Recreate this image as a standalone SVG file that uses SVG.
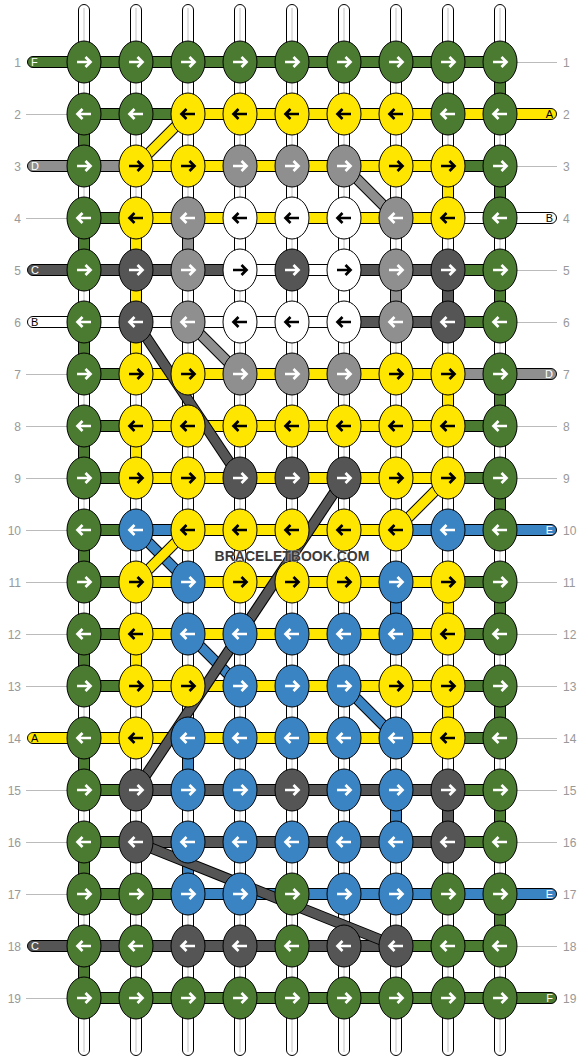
<svg xmlns="http://www.w3.org/2000/svg" xmlns:xlink="http://www.w3.org/1999/xlink" width="584" height="1060" viewBox="0 0 584 1060">
<style>
.G{fill:#4b7a31;color:#fff}
.Y{fill:#ffe600;color:#000}
.S{fill:#8f8f8f;color:#fff}
.D{fill:#555555;color:#fff}
.B{fill:#3a84c4;color:#fff}
.N{fill:#ffffff;color:#000}
#warps rect{fill:#fff;stroke:#000;stroke-width:1}
#warps line{stroke:#c4c4c4;stroke-width:1}
#connectors rect{stroke:#000;stroke-width:1}
#diagonals line{stroke-linecap:butt}
.o{stroke:#000;stroke-width:11}
.iY{stroke:#ffe600;stroke-width:9}
.iS{stroke:#8f8f8f;stroke-width:9}
.iD{stroke:#555555;stroke-width:9}
.iB{stroke:#3a84c4;stroke-width:9}
#knots ellipse{stroke:#000;stroke-width:1}
.num{font-family:"Liberation Sans",Arial,sans-serif;font-size:12px;fill:#999}
.gl{stroke:#bbb;stroke-width:1}
.lab{font-family:"Liberation Sans",Arial,sans-serif;font-size:11px}
.lw{fill:#fff}
.lk{fill:#000}
.wm{font-family:"Liberation Sans",Arial,sans-serif;font-size:14px;font-weight:bold;fill:#3a3a3a;stroke:#fff;stroke-width:1.2;stroke-opacity:.6;paint-order:stroke}
</style>
<defs>
<path id="R" d="M-7 0H6M1.5-5L6.5 0L1.5 5" fill="none" stroke="currentColor" stroke-width="2.7"/>
<path id="L" d="M7 0H-6M-1.5-5L-6.5 0L-1.5 5" fill="none" stroke="currentColor" stroke-width="2.7"/>
</defs>
<rect width="584" height="1060" fill="#fff"/>

<g id="warps">
<rect x="78.5" y="4.5" width="11" height="1051" rx="5.5"/><line x1="84" y1="8" x2="84" y2="1052"/>
<rect x="130.5" y="4.5" width="11" height="1051" rx="5.5"/><line x1="136" y1="8" x2="136" y2="1052"/>
<rect x="182.5" y="4.5" width="11" height="1051" rx="5.5"/><line x1="188" y1="8" x2="188" y2="1052"/>
<rect x="234.5" y="4.5" width="11" height="1051" rx="5.5"/><line x1="240" y1="8" x2="240" y2="1052"/>
<rect x="286.5" y="4.5" width="11" height="1051" rx="5.5"/><line x1="292" y1="8" x2="292" y2="1052"/>
<rect x="338.5" y="4.5" width="11" height="1051" rx="5.5"/><line x1="344" y1="8" x2="344" y2="1052"/>
<rect x="390.5" y="4.5" width="11" height="1051" rx="5.5"/><line x1="396" y1="8" x2="396" y2="1052"/>
<rect x="442.5" y="4.5" width="11" height="1051" rx="5.5"/><line x1="448" y1="8" x2="448" y2="1052"/>
<rect x="494.5" y="4.5" width="11" height="1051" rx="5.5"/><line x1="500" y1="8" x2="500" y2="1052"/>
</g>

<g id="guides">
<line class="gl" x1="26" y1="114.5" x2="67" y2="114.5"/>
<line class="gl" x1="26" y1="218.5" x2="67" y2="218.5"/>
<line class="gl" x1="26" y1="374.5" x2="67" y2="374.5"/>
<line class="gl" x1="26" y1="426.5" x2="67" y2="426.5"/>
<line class="gl" x1="26" y1="478.5" x2="67" y2="478.5"/>
<line class="gl" x1="26" y1="530.5" x2="67" y2="530.5"/>
<line class="gl" x1="26" y1="582.5" x2="67" y2="582.5"/>
<line class="gl" x1="26" y1="634.5" x2="67" y2="634.5"/>
<line class="gl" x1="26" y1="686.5" x2="67" y2="686.5"/>
<line class="gl" x1="26" y1="790.5" x2="67" y2="790.5"/>
<line class="gl" x1="26" y1="842.5" x2="67" y2="842.5"/>
<line class="gl" x1="26" y1="894.5" x2="67" y2="894.5"/>
<line class="gl" x1="26" y1="998.5" x2="67" y2="998.5"/>
<line class="gl" x1="517" y1="62.5" x2="557" y2="62.5"/>
<line class="gl" x1="517" y1="166.5" x2="557" y2="166.5"/>
<line class="gl" x1="517" y1="270.5" x2="557" y2="270.5"/>
<line class="gl" x1="517" y1="322.5" x2="557" y2="322.5"/>
<line class="gl" x1="517" y1="426.5" x2="557" y2="426.5"/>
<line class="gl" x1="517" y1="478.5" x2="557" y2="478.5"/>
<line class="gl" x1="517" y1="582.5" x2="557" y2="582.5"/>
<line class="gl" x1="517" y1="634.5" x2="557" y2="634.5"/>
<line class="gl" x1="517" y1="686.5" x2="557" y2="686.5"/>
<line class="gl" x1="517" y1="738.5" x2="557" y2="738.5"/>
<line class="gl" x1="517" y1="790.5" x2="557" y2="790.5"/>
<line class="gl" x1="517" y1="842.5" x2="557" y2="842.5"/>
<line class="gl" x1="517" y1="946.5" x2="557" y2="946.5"/>
</g>

<g id="connectors">
<!-- vertical -->
<rect class="G" x="494.5" y="62" width="11" height="52"/>
<rect class="G" x="494.5" y="166" width="11" height="52"/>
<rect class="G" x="494.5" y="270" width="11" height="52"/>
<rect class="G" x="494.5" y="374" width="11" height="52"/>
<rect class="G" x="494.5" y="478" width="11" height="52"/>
<rect class="G" x="494.5" y="582" width="11" height="52"/>
<rect class="G" x="494.5" y="686" width="11" height="52"/>
<rect class="G" x="494.5" y="790" width="11" height="52"/>
<rect class="G" x="494.5" y="894" width="11" height="52"/>
<rect class="G" x="78.5" y="114" width="11" height="52"/>
<rect class="G" x="78.5" y="218" width="11" height="52"/>
<rect class="G" x="78.5" y="322" width="11" height="52"/>
<rect class="G" x="78.5" y="426" width="11" height="52"/>
<rect class="G" x="78.5" y="530" width="11" height="52"/>
<rect class="G" x="78.5" y="634" width="11" height="52"/>
<rect class="G" x="78.5" y="738" width="11" height="52"/>
<rect class="G" x="78.5" y="842" width="11" height="52"/>
<rect class="G" x="78.5" y="946" width="11" height="52"/>
<rect class="Y" x="442.5" y="166" width="11" height="52"/>
<rect class="Y" x="442.5" y="374" width="11" height="52"/>
<rect class="Y" x="442.5" y="582" width="11" height="52"/>
<rect class="Y" x="442.5" y="686" width="11" height="52"/>
<rect class="Y" x="130.5" y="218" width="11" height="156"/>
<rect class="Y" x="130.5" y="426" width="11" height="52"/>
<rect class="Y" x="130.5" y="634" width="11" height="52"/>
<rect class="S" x="182.5" y="218" width="11" height="52"/>
<rect class="N" x="234.5" y="218" width="11" height="52"/>
<rect class="N" x="338.5" y="270" width="11" height="52"/>
<rect class="S" x="390.5" y="270" width="11" height="52"/>
<rect class="D" x="442.5" y="270" width="11" height="52"/>
<rect class="D" x="442.5" y="790" width="11" height="52"/>
<rect class="B" x="390.5" y="582" width="11" height="52"/>
<rect class="B" x="390.5" y="790" width="11" height="52"/>
<rect class="B" x="182.5" y="738" width="11" height="52"/>
<rect class="B" x="182.5" y="842" width="11" height="52"/>
<!-- edge strings -->
<rect class="G" x="27.5" y="56.5" width="62" height="11" rx="5.5"/>
<rect class="S" x="27.5" y="160.5" width="62" height="11" rx="5.5"/>
<rect class="D" x="27.5" y="264.5" width="62" height="11" rx="5.5"/>
<rect class="N" x="27.5" y="316.5" width="62" height="11" rx="5.5"/>
<rect class="Y" x="27.5" y="732.5" width="62" height="11" rx="5.5"/>
<rect class="D" x="27.5" y="940.5" width="62" height="11" rx="5.5"/>
<rect class="Y" x="494.5" y="108.5" width="62" height="11" rx="5.5"/>
<rect class="N" x="494.5" y="212.5" width="62" height="11" rx="5.5"/>
<rect class="S" x="494.5" y="368.5" width="62" height="11" rx="5.5"/>
<rect class="B" x="494.5" y="524.5" width="62" height="11" rx="5.5"/>
<rect class="B" x="494.5" y="888.5" width="62" height="11" rx="5.5"/>
<rect class="G" x="494.5" y="992.5" width="62" height="11" rx="5.5"/>
<!-- horizontal -->
<rect class="G" x="84" y="56.5" width="416" height="11"/>
<rect class="G" x="84" y="108.5" width="104" height="11"/>
<rect class="Y" x="188" y="108.5" width="312" height="11"/>
<rect class="S" x="84" y="160.5" width="52" height="11"/>
<rect class="Y" x="136" y="160.5" width="312" height="11"/>
<rect class="G" x="448" y="160.5" width="52" height="11"/>
<rect class="G" x="84" y="212.5" width="52" height="11"/>
<rect class="Y" x="136" y="212.5" width="312" height="11"/>
<rect class="N" x="448" y="212.5" width="52" height="11"/>
<rect class="D" x="84" y="264.5" width="156" height="11"/>
<rect class="N" x="240" y="264.5" width="104" height="11"/>
<rect class="D" x="344" y="264.5" width="104" height="11"/>
<rect class="G" x="448" y="264.5" width="52" height="11"/>
<rect class="N" x="84" y="316.5" width="260" height="11"/>
<rect class="D" x="344" y="316.5" width="104" height="11"/>
<rect class="G" x="448" y="316.5" width="52" height="11"/>
<rect class="G" x="84" y="368.5" width="52" height="11"/>
<rect class="Y" x="136" y="368.5" width="312" height="11"/>
<rect class="S" x="448" y="368.5" width="52" height="11"/>
<rect class="G" x="84" y="420.5" width="52" height="11"/>
<rect class="Y" x="136" y="420.5" width="312" height="11"/>
<rect class="G" x="448" y="420.5" width="52" height="11"/>
<rect class="G" x="84" y="472.5" width="52" height="11"/>
<rect class="Y" x="136" y="472.5" width="312" height="11"/>
<rect class="G" x="448" y="472.5" width="52" height="11"/>
<rect class="G" x="84" y="524.5" width="52" height="11"/>
<rect class="B" x="136" y="524.5" width="52" height="11"/>
<rect class="Y" x="188" y="524.5" width="208" height="11"/>
<rect class="B" x="396" y="524.5" width="104" height="11"/>
<rect class="G" x="84" y="576.5" width="52" height="11"/>
<rect class="Y" x="136" y="576.5" width="312" height="11"/>
<rect class="G" x="448" y="576.5" width="52" height="11"/>
<rect class="G" x="84" y="628.5" width="52" height="11"/>
<rect class="Y" x="136" y="628.5" width="312" height="11"/>
<rect class="G" x="448" y="628.5" width="52" height="11"/>
<rect class="G" x="84" y="680.5" width="52" height="11"/>
<rect class="Y" x="136" y="680.5" width="312" height="11"/>
<rect class="G" x="448" y="680.5" width="52" height="11"/>
<rect class="Y" x="84" y="732.5" width="364" height="11"/>
<rect class="G" x="448" y="732.5" width="52" height="11"/>
<rect class="G" x="84" y="784.5" width="52" height="11"/>
<rect class="D" x="136" y="784.5" width="312" height="11"/>
<rect class="G" x="448" y="784.5" width="52" height="11"/>
<rect class="G" x="84" y="836.5" width="52" height="11"/>
<rect class="D" x="136" y="836.5" width="312" height="11"/>
<rect class="G" x="448" y="836.5" width="52" height="11"/>
<rect class="G" x="84" y="888.5" width="104" height="11"/>
<rect class="B" x="188" y="888.5" width="312" height="11"/>
<rect class="D" x="84" y="940.5" width="312" height="11"/>
<rect class="G" x="396" y="940.5" width="104" height="11"/>
<rect class="G" x="84" y="992.5" width="416" height="11"/>
</g>

<g id="diagonals">
<line class="o" x1="188" y1="114" x2="136" y2="166"/><line class="iY" x1="188" y1="114" x2="136" y2="166"/>
<line class="o" x1="344" y1="166" x2="396" y2="218"/><line class="iS" x1="344" y1="166" x2="396" y2="218"/>
<line class="o" x1="188" y1="322" x2="240" y2="374"/><line class="iS" x1="188" y1="322" x2="240" y2="374"/>
<line class="o" x1="448" y1="478" x2="396" y2="530"/><line class="iY" x1="448" y1="478" x2="396" y2="530"/>
<line class="o" x1="136" y1="530" x2="188" y2="582"/><line class="iB" x1="136" y1="530" x2="188" y2="582"/>
<line class="o" x1="188" y1="530" x2="136" y2="582"/><line class="iY" x1="188" y1="530" x2="136" y2="582"/>
<line class="o" x1="188" y1="634" x2="240" y2="686"/><line class="iB" x1="188" y1="634" x2="240" y2="686"/>
<line class="o" x1="344" y1="686" x2="396" y2="738"/><line class="iB" x1="344" y1="686" x2="396" y2="738"/>
<line class="o" x1="136" y1="322" x2="240" y2="478"/><line class="iD" x1="136" y1="322" x2="240" y2="478"/>
<line class="o" x1="344" y1="478" x2="136" y2="790"/><line class="iD" x1="344" y1="478" x2="136" y2="790"/>
<line class="o" x1="136" y1="842" x2="396" y2="946"/><line class="iD" x1="136" y1="842" x2="396" y2="946"/>
</g>

<g id="knots">
<g id="k1-1" class="G" transform="translate(84 62)"><ellipse rx="17" ry="21"/><use href="#R"/></g>
<g id="k1-2" class="G" transform="translate(136 62)"><ellipse rx="17" ry="21"/><use href="#R"/></g>
<g id="k1-3" class="G" transform="translate(188 62)"><ellipse rx="17" ry="21"/><use href="#R"/></g>
<g id="k1-4" class="G" transform="translate(240 62)"><ellipse rx="17" ry="21"/><use href="#R"/></g>
<g id="k1-5" class="G" transform="translate(292 62)"><ellipse rx="17" ry="21"/><use href="#R"/></g>
<g id="k1-6" class="G" transform="translate(344 62)"><ellipse rx="17" ry="21"/><use href="#R"/></g>
<g id="k1-7" class="G" transform="translate(396 62)"><ellipse rx="17" ry="21"/><use href="#R"/></g>
<g id="k1-8" class="G" transform="translate(448 62)"><ellipse rx="17" ry="21"/><use href="#R"/></g>
<g id="k1-9" class="G" transform="translate(500 62)"><ellipse rx="17" ry="21"/><use href="#R"/></g>

<g id="k2-1" class="G" transform="translate(84 114)"><ellipse rx="17" ry="21"/><use href="#L"/></g>
<g id="k2-2" class="G" transform="translate(136 114)"><ellipse rx="17" ry="21"/><use href="#L"/></g>
<g id="k2-3" class="Y" transform="translate(188 114)"><ellipse rx="17" ry="21"/><use href="#L"/></g>
<g id="k2-4" class="Y" transform="translate(240 114)"><ellipse rx="17" ry="21"/><use href="#L"/></g>
<g id="k2-5" class="Y" transform="translate(292 114)"><ellipse rx="17" ry="21"/><use href="#L"/></g>
<g id="k2-6" class="Y" transform="translate(344 114)"><ellipse rx="17" ry="21"/><use href="#L"/></g>
<g id="k2-7" class="Y" transform="translate(396 114)"><ellipse rx="17" ry="21"/><use href="#L"/></g>
<g id="k2-8" class="G" transform="translate(448 114)"><ellipse rx="17" ry="21"/><use href="#L"/></g>
<g id="k2-9" class="G" transform="translate(500 114)"><ellipse rx="17" ry="21"/><use href="#L"/></g>

<g id="k3-1" class="G" transform="translate(84 166)"><ellipse rx="17" ry="21"/><use href="#R"/></g>
<g id="k3-2" class="Y" transform="translate(136 166)"><ellipse rx="17" ry="21"/><use href="#R"/></g>
<g id="k3-3" class="Y" transform="translate(188 166)"><ellipse rx="17" ry="21"/><use href="#R"/></g>
<g id="k3-4" class="S" transform="translate(240 166)"><ellipse rx="17" ry="21"/><use href="#R"/></g>
<g id="k3-5" class="S" transform="translate(292 166)"><ellipse rx="17" ry="21"/><use href="#R"/></g>
<g id="k3-6" class="S" transform="translate(344 166)"><ellipse rx="17" ry="21"/><use href="#R"/></g>
<g id="k3-7" class="Y" transform="translate(396 166)"><ellipse rx="17" ry="21"/><use href="#R"/></g>
<g id="k3-8" class="Y" transform="translate(448 166)"><ellipse rx="17" ry="21"/><use href="#R"/></g>
<g id="k3-9" class="G" transform="translate(500 166)"><ellipse rx="17" ry="21"/><use href="#R"/></g>

<g id="k4-1" class="G" transform="translate(84 218)"><ellipse rx="17" ry="21"/><use href="#L"/></g>
<g id="k4-2" class="Y" transform="translate(136 218)"><ellipse rx="17" ry="21"/><use href="#L"/></g>
<g id="k4-3" class="S" transform="translate(188 218)"><ellipse rx="17" ry="21"/><use href="#L"/></g>
<g id="k4-4" class="N" transform="translate(240 218)"><ellipse rx="17" ry="21"/><use href="#L"/></g>
<g id="k4-5" class="N" transform="translate(292 218)"><ellipse rx="17" ry="21"/><use href="#L"/></g>
<g id="k4-6" class="N" transform="translate(344 218)"><ellipse rx="17" ry="21"/><use href="#L"/></g>
<g id="k4-7" class="S" transform="translate(396 218)"><ellipse rx="17" ry="21"/><use href="#L"/></g>
<g id="k4-8" class="Y" transform="translate(448 218)"><ellipse rx="17" ry="21"/><use href="#L"/></g>
<g id="k4-9" class="G" transform="translate(500 218)"><ellipse rx="17" ry="21"/><use href="#L"/></g>

<g id="k5-1" class="G" transform="translate(84 270)"><ellipse rx="17" ry="21"/><use href="#R"/></g>
<g id="k5-2" class="D" transform="translate(136 270)"><ellipse rx="17" ry="21"/><use href="#R"/></g>
<g id="k5-3" class="S" transform="translate(188 270)"><ellipse rx="17" ry="21"/><use href="#R"/></g>
<g id="k5-4" class="N" transform="translate(240 270)"><ellipse rx="17" ry="21"/><use href="#R"/></g>
<g id="k5-5" class="D" transform="translate(292 270)"><ellipse rx="17" ry="21"/><use href="#R"/></g>
<g id="k5-6" class="N" transform="translate(344 270)"><ellipse rx="17" ry="21"/><use href="#R"/></g>
<g id="k5-7" class="S" transform="translate(396 270)"><ellipse rx="17" ry="21"/><use href="#R"/></g>
<g id="k5-8" class="D" transform="translate(448 270)"><ellipse rx="17" ry="21"/><use href="#R"/></g>
<g id="k5-9" class="G" transform="translate(500 270)"><ellipse rx="17" ry="21"/><use href="#R"/></g>

<g id="k6-1" class="G" transform="translate(84 322)"><ellipse rx="17" ry="21"/><use href="#L"/></g>
<g id="k6-2" class="D" transform="translate(136 322)"><ellipse rx="17" ry="21"/><use href="#L"/></g>
<g id="k6-3" class="S" transform="translate(188 322)"><ellipse rx="17" ry="21"/><use href="#L"/></g>
<g id="k6-4" class="N" transform="translate(240 322)"><ellipse rx="17" ry="21"/><use href="#L"/></g>
<g id="k6-5" class="N" transform="translate(292 322)"><ellipse rx="17" ry="21"/><use href="#L"/></g>
<g id="k6-6" class="N" transform="translate(344 322)"><ellipse rx="17" ry="21"/><use href="#L"/></g>
<g id="k6-7" class="S" transform="translate(396 322)"><ellipse rx="17" ry="21"/><use href="#L"/></g>
<g id="k6-8" class="D" transform="translate(448 322)"><ellipse rx="17" ry="21"/><use href="#L"/></g>
<g id="k6-9" class="G" transform="translate(500 322)"><ellipse rx="17" ry="21"/><use href="#L"/></g>

<g id="k7-1" class="G" transform="translate(84 374)"><ellipse rx="17" ry="21"/><use href="#R"/></g>
<g id="k7-2" class="Y" transform="translate(136 374)"><ellipse rx="17" ry="21"/><use href="#R"/></g>
<g id="k7-3" class="Y" transform="translate(188 374)"><ellipse rx="17" ry="21"/><use href="#R"/></g>
<g id="k7-4" class="S" transform="translate(240 374)"><ellipse rx="17" ry="21"/><use href="#R"/></g>
<g id="k7-5" class="S" transform="translate(292 374)"><ellipse rx="17" ry="21"/><use href="#R"/></g>
<g id="k7-6" class="S" transform="translate(344 374)"><ellipse rx="17" ry="21"/><use href="#R"/></g>
<g id="k7-7" class="Y" transform="translate(396 374)"><ellipse rx="17" ry="21"/><use href="#R"/></g>
<g id="k7-8" class="Y" transform="translate(448 374)"><ellipse rx="17" ry="21"/><use href="#R"/></g>
<g id="k7-9" class="G" transform="translate(500 374)"><ellipse rx="17" ry="21"/><use href="#R"/></g>

<g id="k8-1" class="G" transform="translate(84 426)"><ellipse rx="17" ry="21"/><use href="#L"/></g>
<g id="k8-2" class="Y" transform="translate(136 426)"><ellipse rx="17" ry="21"/><use href="#L"/></g>
<g id="k8-3" class="Y" transform="translate(188 426)"><ellipse rx="17" ry="21"/><use href="#L"/></g>
<g id="k8-4" class="Y" transform="translate(240 426)"><ellipse rx="17" ry="21"/><use href="#L"/></g>
<g id="k8-5" class="Y" transform="translate(292 426)"><ellipse rx="17" ry="21"/><use href="#L"/></g>
<g id="k8-6" class="Y" transform="translate(344 426)"><ellipse rx="17" ry="21"/><use href="#L"/></g>
<g id="k8-7" class="Y" transform="translate(396 426)"><ellipse rx="17" ry="21"/><use href="#L"/></g>
<g id="k8-8" class="Y" transform="translate(448 426)"><ellipse rx="17" ry="21"/><use href="#L"/></g>
<g id="k8-9" class="G" transform="translate(500 426)"><ellipse rx="17" ry="21"/><use href="#L"/></g>

<g id="k9-1" class="G" transform="translate(84 478)"><ellipse rx="17" ry="21"/><use href="#R"/></g>
<g id="k9-2" class="Y" transform="translate(136 478)"><ellipse rx="17" ry="21"/><use href="#R"/></g>
<g id="k9-3" class="Y" transform="translate(188 478)"><ellipse rx="17" ry="21"/><use href="#R"/></g>
<g id="k9-4" class="D" transform="translate(240 478)"><ellipse rx="17" ry="21"/><use href="#R"/></g>
<g id="k9-5" class="D" transform="translate(292 478)"><ellipse rx="17" ry="21"/><use href="#R"/></g>
<g id="k9-6" class="D" transform="translate(344 478)"><ellipse rx="17" ry="21"/><use href="#R"/></g>
<g id="k9-7" class="Y" transform="translate(396 478)"><ellipse rx="17" ry="21"/><use href="#R"/></g>
<g id="k9-8" class="Y" transform="translate(448 478)"><ellipse rx="17" ry="21"/><use href="#R"/></g>
<g id="k9-9" class="G" transform="translate(500 478)"><ellipse rx="17" ry="21"/><use href="#R"/></g>

<g id="k10-1" class="G" transform="translate(84 530)"><ellipse rx="17" ry="21"/><use href="#L"/></g>
<g id="k10-2" class="B" transform="translate(136 530)"><ellipse rx="17" ry="21"/><use href="#L"/></g>
<g id="k10-3" class="Y" transform="translate(188 530)"><ellipse rx="17" ry="21"/><use href="#L"/></g>
<g id="k10-4" class="Y" transform="translate(240 530)"><ellipse rx="17" ry="21"/><use href="#L"/></g>
<g id="k10-5" class="Y" transform="translate(292 530)"><ellipse rx="17" ry="21"/><use href="#L"/></g>
<g id="k10-6" class="Y" transform="translate(344 530)"><ellipse rx="17" ry="21"/><use href="#L"/></g>
<g id="k10-7" class="Y" transform="translate(396 530)"><ellipse rx="17" ry="21"/><use href="#L"/></g>
<g id="k10-8" class="B" transform="translate(448 530)"><ellipse rx="17" ry="21"/><use href="#L"/></g>
<g id="k10-9" class="G" transform="translate(500 530)"><ellipse rx="17" ry="21"/><use href="#L"/></g>

<g id="k11-1" class="G" transform="translate(84 582)"><ellipse rx="17" ry="21"/><use href="#R"/></g>
<g id="k11-2" class="Y" transform="translate(136 582)"><ellipse rx="17" ry="21"/><use href="#R"/></g>
<g id="k11-3" class="B" transform="translate(188 582)"><ellipse rx="17" ry="21"/><use href="#R"/></g>
<g id="k11-4" class="Y" transform="translate(240 582)"><ellipse rx="17" ry="21"/><use href="#R"/></g>
<g id="k11-5" class="Y" transform="translate(292 582)"><ellipse rx="17" ry="21"/><use href="#R"/></g>
<g id="k11-6" class="Y" transform="translate(344 582)"><ellipse rx="17" ry="21"/><use href="#R"/></g>
<g id="k11-7" class="B" transform="translate(396 582)"><ellipse rx="17" ry="21"/><use href="#R"/></g>
<g id="k11-8" class="Y" transform="translate(448 582)"><ellipse rx="17" ry="21"/><use href="#R"/></g>
<g id="k11-9" class="G" transform="translate(500 582)"><ellipse rx="17" ry="21"/><use href="#R"/></g>

<g id="k12-1" class="G" transform="translate(84 634)"><ellipse rx="17" ry="21"/><use href="#L"/></g>
<g id="k12-2" class="Y" transform="translate(136 634)"><ellipse rx="17" ry="21"/><use href="#L"/></g>
<g id="k12-3" class="B" transform="translate(188 634)"><ellipse rx="17" ry="21"/><use href="#L"/></g>
<g id="k12-4" class="B" transform="translate(240 634)"><ellipse rx="17" ry="21"/><use href="#L"/></g>
<g id="k12-5" class="B" transform="translate(292 634)"><ellipse rx="17" ry="21"/><use href="#L"/></g>
<g id="k12-6" class="B" transform="translate(344 634)"><ellipse rx="17" ry="21"/><use href="#L"/></g>
<g id="k12-7" class="B" transform="translate(396 634)"><ellipse rx="17" ry="21"/><use href="#L"/></g>
<g id="k12-8" class="Y" transform="translate(448 634)"><ellipse rx="17" ry="21"/><use href="#L"/></g>
<g id="k12-9" class="G" transform="translate(500 634)"><ellipse rx="17" ry="21"/><use href="#L"/></g>

<g id="k13-1" class="G" transform="translate(84 686)"><ellipse rx="17" ry="21"/><use href="#R"/></g>
<g id="k13-2" class="Y" transform="translate(136 686)"><ellipse rx="17" ry="21"/><use href="#R"/></g>
<g id="k13-3" class="Y" transform="translate(188 686)"><ellipse rx="17" ry="21"/><use href="#R"/></g>
<g id="k13-4" class="B" transform="translate(240 686)"><ellipse rx="17" ry="21"/><use href="#R"/></g>
<g id="k13-5" class="B" transform="translate(292 686)"><ellipse rx="17" ry="21"/><use href="#R"/></g>
<g id="k13-6" class="B" transform="translate(344 686)"><ellipse rx="17" ry="21"/><use href="#R"/></g>
<g id="k13-7" class="Y" transform="translate(396 686)"><ellipse rx="17" ry="21"/><use href="#R"/></g>
<g id="k13-8" class="Y" transform="translate(448 686)"><ellipse rx="17" ry="21"/><use href="#R"/></g>
<g id="k13-9" class="G" transform="translate(500 686)"><ellipse rx="17" ry="21"/><use href="#R"/></g>

<g id="k14-1" class="G" transform="translate(84 738)"><ellipse rx="17" ry="21"/><use href="#L"/></g>
<g id="k14-2" class="Y" transform="translate(136 738)"><ellipse rx="17" ry="21"/><use href="#L"/></g>
<g id="k14-3" class="B" transform="translate(188 738)"><ellipse rx="17" ry="21"/><use href="#L"/></g>
<g id="k14-4" class="B" transform="translate(240 738)"><ellipse rx="17" ry="21"/><use href="#L"/></g>
<g id="k14-5" class="B" transform="translate(292 738)"><ellipse rx="17" ry="21"/><use href="#L"/></g>
<g id="k14-6" class="B" transform="translate(344 738)"><ellipse rx="17" ry="21"/><use href="#L"/></g>
<g id="k14-7" class="B" transform="translate(396 738)"><ellipse rx="17" ry="21"/><use href="#L"/></g>
<g id="k14-8" class="Y" transform="translate(448 738)"><ellipse rx="17" ry="21"/><use href="#L"/></g>
<g id="k14-9" class="G" transform="translate(500 738)"><ellipse rx="17" ry="21"/><use href="#L"/></g>

<g id="k15-1" class="G" transform="translate(84 790)"><ellipse rx="17" ry="21"/><use href="#R"/></g>
<g id="k15-2" class="D" transform="translate(136 790)"><ellipse rx="17" ry="21"/><use href="#R"/></g>
<g id="k15-3" class="B" transform="translate(188 790)"><ellipse rx="17" ry="21"/><use href="#R"/></g>
<g id="k15-4" class="B" transform="translate(240 790)"><ellipse rx="17" ry="21"/><use href="#R"/></g>
<g id="k15-5" class="D" transform="translate(292 790)"><ellipse rx="17" ry="21"/><use href="#R"/></g>
<g id="k15-6" class="B" transform="translate(344 790)"><ellipse rx="17" ry="21"/><use href="#R"/></g>
<g id="k15-7" class="B" transform="translate(396 790)"><ellipse rx="17" ry="21"/><use href="#R"/></g>
<g id="k15-8" class="D" transform="translate(448 790)"><ellipse rx="17" ry="21"/><use href="#R"/></g>
<g id="k15-9" class="G" transform="translate(500 790)"><ellipse rx="17" ry="21"/><use href="#R"/></g>

<g id="k16-1" class="G" transform="translate(84 842)"><ellipse rx="17" ry="21"/><use href="#L"/></g>
<g id="k16-2" class="D" transform="translate(136 842)"><ellipse rx="17" ry="21"/><use href="#L"/></g>
<g id="k16-3" class="B" transform="translate(188 842)"><ellipse rx="17" ry="21"/><use href="#L"/></g>
<g id="k16-4" class="B" transform="translate(240 842)"><ellipse rx="17" ry="21"/><use href="#L"/></g>
<g id="k16-5" class="B" transform="translate(292 842)"><ellipse rx="17" ry="21"/><use href="#L"/></g>
<g id="k16-6" class="B" transform="translate(344 842)"><ellipse rx="17" ry="21"/><use href="#L"/></g>
<g id="k16-7" class="B" transform="translate(396 842)"><ellipse rx="17" ry="21"/><use href="#L"/></g>
<g id="k16-8" class="D" transform="translate(448 842)"><ellipse rx="17" ry="21"/><use href="#L"/></g>
<g id="k16-9" class="G" transform="translate(500 842)"><ellipse rx="17" ry="21"/><use href="#L"/></g>

<g id="k17-1" class="G" transform="translate(84 894)"><ellipse rx="17" ry="21"/><use href="#R"/></g>
<g id="k17-2" class="G" transform="translate(136 894)"><ellipse rx="17" ry="21"/><use href="#R"/></g>
<g id="k17-3" class="B" transform="translate(188 894)"><ellipse rx="17" ry="21"/><use href="#R"/></g>
<g id="k17-4" class="B" transform="translate(240 894)"><ellipse rx="17" ry="21"/><use href="#R"/></g>
<g id="k17-5" class="G" transform="translate(292 894)"><ellipse rx="17" ry="21"/><use href="#R"/></g>
<g id="k17-6" class="B" transform="translate(344 894)"><ellipse rx="17" ry="21"/><use href="#R"/></g>
<g id="k17-7" class="B" transform="translate(396 894)"><ellipse rx="17" ry="21"/><use href="#R"/></g>
<g id="k17-8" class="G" transform="translate(448 894)"><ellipse rx="17" ry="21"/><use href="#R"/></g>
<g id="k17-9" class="G" transform="translate(500 894)"><ellipse rx="17" ry="21"/><use href="#R"/></g>

<g id="k18-1" class="G" transform="translate(84 946)"><ellipse rx="17" ry="21"/><use href="#L"/></g>
<g id="k18-2" class="G" transform="translate(136 946)"><ellipse rx="17" ry="21"/><use href="#L"/></g>
<g id="k18-3" class="D" transform="translate(188 946)"><ellipse rx="17" ry="21"/><use href="#L"/></g>
<g id="k18-4" class="D" transform="translate(240 946)"><ellipse rx="17" ry="21"/><use href="#L"/></g>
<g id="k18-5" class="G" transform="translate(292 946)"><ellipse rx="17" ry="21"/><use href="#L"/></g>
<g id="k18-6" class="D" transform="translate(344 946)"><ellipse rx="17" ry="21"/><use href="#L"/></g>
<g id="k18-7" class="D" transform="translate(396 946)"><ellipse rx="17" ry="21"/><use href="#L"/></g>
<g id="k18-8" class="G" transform="translate(448 946)"><ellipse rx="17" ry="21"/><use href="#L"/></g>
<g id="k18-9" class="G" transform="translate(500 946)"><ellipse rx="17" ry="21"/><use href="#L"/></g>

<g id="k19-1" class="G" transform="translate(84 998)"><ellipse rx="17" ry="21"/><use href="#R"/></g>
<g id="k19-2" class="G" transform="translate(136 998)"><ellipse rx="17" ry="21"/><use href="#R"/></g>
<g id="k19-3" class="G" transform="translate(188 998)"><ellipse rx="17" ry="21"/><use href="#R"/></g>
<g id="k19-4" class="G" transform="translate(240 998)"><ellipse rx="17" ry="21"/><use href="#R"/></g>
<g id="k19-5" class="G" transform="translate(292 998)"><ellipse rx="17" ry="21"/><use href="#R"/></g>
<g id="k19-6" class="G" transform="translate(344 998)"><ellipse rx="17" ry="21"/><use href="#R"/></g>
<g id="k19-7" class="G" transform="translate(396 998)"><ellipse rx="17" ry="21"/><use href="#R"/></g>
<g id="k19-8" class="G" transform="translate(448 998)"><ellipse rx="17" ry="21"/><use href="#R"/></g>
<g id="k19-9" class="G" transform="translate(500 998)"><ellipse rx="17" ry="21"/><use href="#R"/></g>
</g>

<g id="string-labels">
<text class="lab lw" x="31" y="66">F</text>
<text class="lab lw" x="31" y="170">D</text>
<text class="lab lw" x="31" y="274">C</text>
<text class="lab lk" x="31" y="326">B</text>
<text class="lab lk" x="31" y="742">A</text>
<text class="lab lw" x="31" y="950">C</text>
<text class="lab lk" x="553" y="118" text-anchor="end">A</text>
<text class="lab lk" x="553" y="222" text-anchor="end">B</text>
<text class="lab lw" x="553" y="378" text-anchor="end">D</text>
<text class="lab lw" x="553" y="534" text-anchor="end">E</text>
<text class="lab lw" x="553" y="898" text-anchor="end">E</text>
<text class="lab lw" x="553" y="1002" text-anchor="end">F</text>
</g>

<g id="row-numbers" class="num">
<text x="21" y="66.5" text-anchor="end">1</text>
<text x="21" y="118.5" text-anchor="end">2</text>
<text x="21" y="170.5" text-anchor="end">3</text>
<text x="21" y="222.5" text-anchor="end">4</text>
<text x="21" y="274.5" text-anchor="end">5</text>
<text x="21" y="326.5" text-anchor="end">6</text>
<text x="21" y="378.5" text-anchor="end">7</text>
<text x="21" y="430.5" text-anchor="end">8</text>
<text x="21" y="482.5" text-anchor="end">9</text>
<text x="21" y="534.5" text-anchor="end">10</text>
<text x="21" y="586.5" text-anchor="end">11</text>
<text x="21" y="638.5" text-anchor="end">12</text>
<text x="21" y="690.5" text-anchor="end">13</text>
<text x="21" y="742.5" text-anchor="end">14</text>
<text x="21" y="794.5" text-anchor="end">15</text>
<text x="21" y="846.5" text-anchor="end">16</text>
<text x="21" y="898.5" text-anchor="end">17</text>
<text x="21" y="950.5" text-anchor="end">18</text>
<text x="21" y="1002.5" text-anchor="end">19</text>
<text x="563" y="66.5">1</text>
<text x="563" y="118.5">2</text>
<text x="563" y="170.5">3</text>
<text x="563" y="222.5">4</text>
<text x="563" y="274.5">5</text>
<text x="563" y="326.5">6</text>
<text x="563" y="378.5">7</text>
<text x="563" y="430.5">8</text>
<text x="563" y="482.5">9</text>
<text x="563" y="534.5">10</text>
<text x="563" y="586.5">11</text>
<text x="563" y="638.5">12</text>
<text x="563" y="690.5">13</text>
<text x="563" y="742.5">14</text>
<text x="563" y="794.5">15</text>
<text x="563" y="846.5">16</text>
<text x="563" y="898.5">17</text>
<text x="563" y="950.5">18</text>
<text x="563" y="1002.5">19</text>
</g>

<text id="watermark" class="wm" x="292" y="561" text-anchor="middle">BRACELETBOOK.COM</text>
</svg>
